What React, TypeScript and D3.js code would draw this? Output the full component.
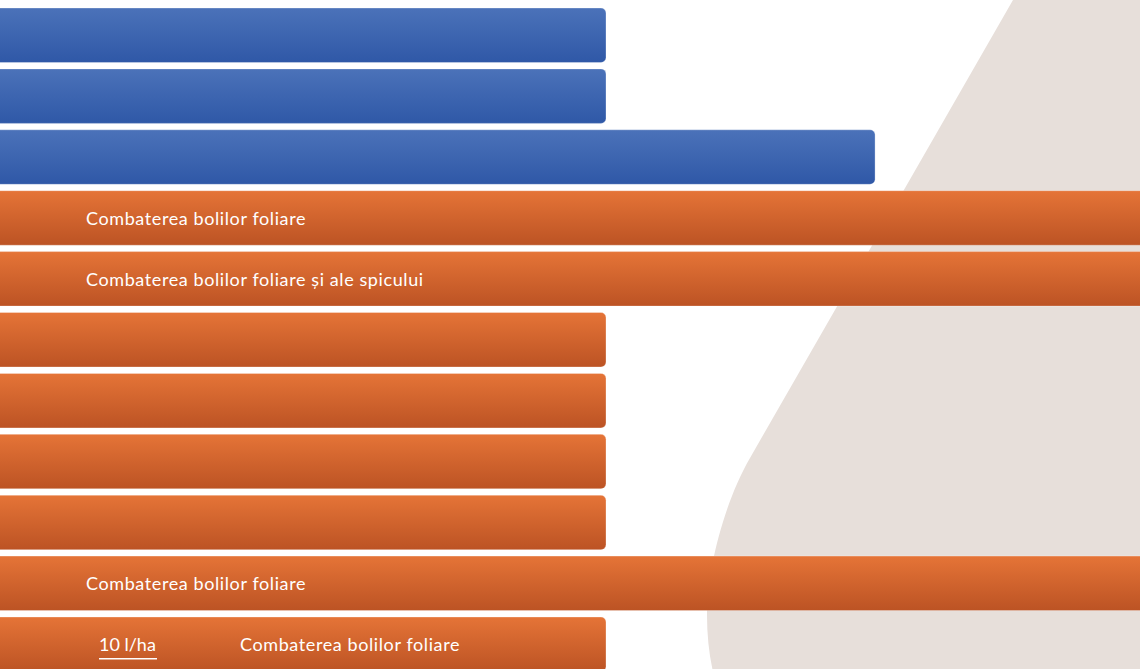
import React from "react";
import * as d3 from "d3";

const W = 1140;
const H = 669;

// Rows (top to bottom)
const rowIds = ["r1", "r2", "r3", "r4", "r5", "r6", "r7", "r8", "r9", "r10", "r11"];
const rowValues = [100, 100, 144.4, 200, 200, 100, 100, 100, 100, 200, 100];
const rowSeries = ["blue", "blue", "blue", "orange", "orange", "orange", "orange", "orange", "orange", "orange", "orange"];
const rowLabels = [
  "",
  "",
  "",
  "Combaterea bolilor foliare",
  "Combaterea bolilor foliare și ale spicului",
  "",
  "",
  "",
  "",
  "Combaterea bolilor foliare",
  "Combaterea bolilor foliare",
];
const rowDoses = ["", "", "", "", "", "", "", "", "", "", "10 l/ha"];

const gradients: Record<string, [string, string]> = {
  blue: ["#4b72b9", "#2f58a7"],
  orange: ["#e57437", "#bc5324"],
};

export default function App() {
  const x = d3.scaleLinear().domain([0, 100]).range([0, 606]);
  const y = d3
    .scaleBand<string>()
    .domain(rowIds)
    .range([8, 671.5])
    .paddingInner(0.105)
    .paddingOuter(0);
  const bw = y.bandwidth();

  const bgPath =
    "M 1013 0 L 1145 0 L 1145 680 L 715 680 Q 707 650 707 615 C 707 570 724 503 750 458 Z";

  return (
    <div style={{ position: "absolute", left: 0, top: 0, width: W, height: H }}>
      <svg width={W} height={H} style={{ display: "block" }}>
        <defs>
          {Object.entries(gradients).map(([k, [c1, c2]]) => (
            <linearGradient key={k} id={`g-${k}`} x1="0" y1="0" x2="0" y2="1">
              <stop offset="0%" stopColor={c1} />
              <stop offset="100%" stopColor={c2} />
            </linearGradient>
          ))}
        </defs>
        <rect x={0} y={0} width={W} height={H} fill="#ffffff" />
        <path d={bgPath} fill="#e7dfda" />
        {rowIds.map((id, i) => {
          const y0 = y(id)!;
          const x1 = x(rowValues[i]);
          const xs = x(0) - 10;
          return (
            <g key={id}>
              <rect
                x={xs}
                y={y0}
                width={x1 - xs}
                height={bw}
                rx={5}
                ry={5}
                fill={`url(#g-${rowSeries[i]})`}
                stroke="rgba(255,255,255,0.3)"
                strokeWidth={1}
              />
              {rowDoses[i] && (
                <g>
                  <text
                    x={99}
                    y={y0 + bw / 2 + 7}
                    fill="#ffffff"
                    fontFamily="Lato, sans-serif"
                    fontSize={18}
                  >
                    {rowDoses[i]}
                  </text>
                  <line
                    x1={99}
                    x2={157}
                    y1={y0 + bw / 2 + 14.5}
                    y2={y0 + bw / 2 + 14.5}
                    stroke="#ffffff"
                    strokeWidth={1.5}
                  />
                </g>
              )}
              {rowLabels[i] && (
                <text
                  x={rowDoses[i] ? 240 : 86}
                  y={y0 + bw / 2 + 7}
                  fill="#ffffff"
                  fontFamily="Lato, sans-serif"
                  fontSize={18}
                  letterSpacing={0.6}
                >
                  {rowLabels[i]}
                </text>
              )}
            </g>
          );
        })}
      </svg>
    </div>
  );
}
